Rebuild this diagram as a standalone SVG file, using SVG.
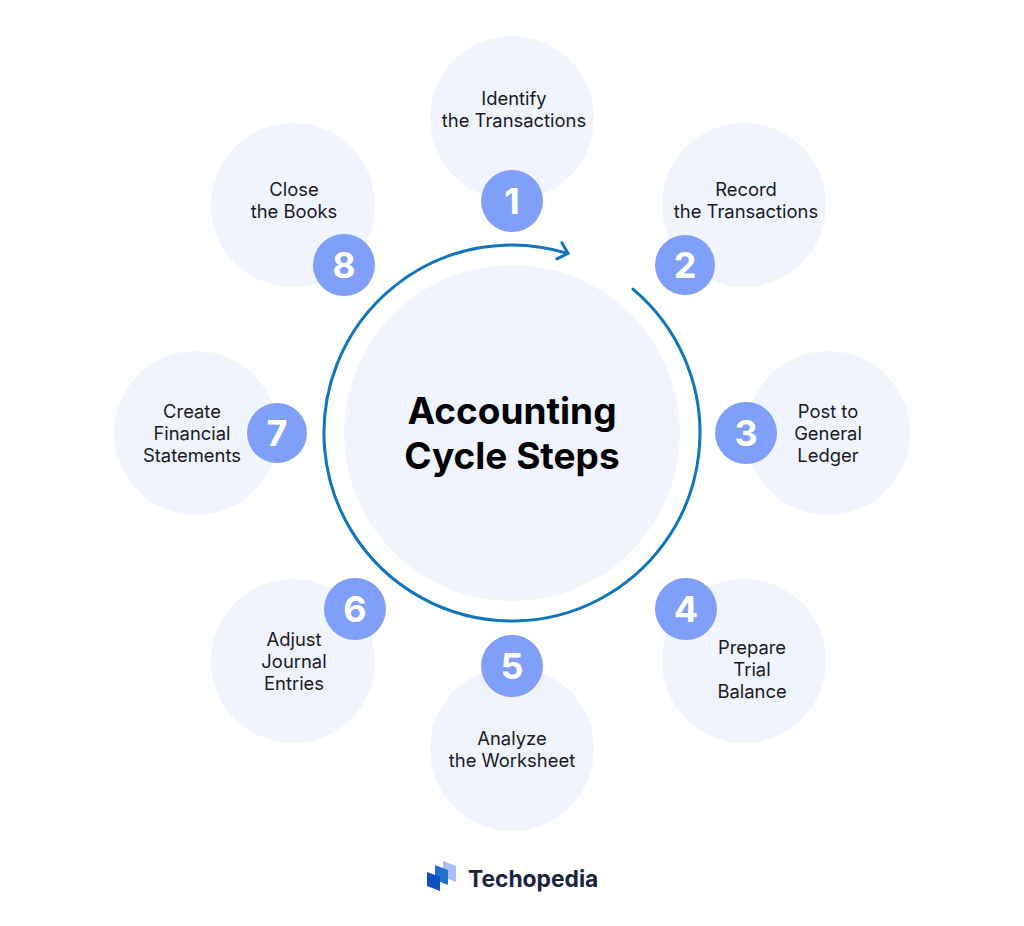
<svg xmlns="http://www.w3.org/2000/svg" width="1024" height="926" viewBox="0 0 1024 926">
<defs>
<marker id="arrow" markerUnits="userSpaceOnUse" markerWidth="20" markerHeight="22" refX="15" refY="10" orient="auto"><path d="M6 1.500L15 10L6 18.500" fill="none" stroke="#0f75bc" stroke-width="3" stroke-linecap="round" stroke-linejoin="round"/></marker>
</defs>
<style>
.bubble{fill:#eff4fe}
.badge{fill:#7f9ff8}
.num{font:700 36px Inter,"Liberation Sans",sans-serif;fill:#fff;text-anchor:middle}
.t{font:400 18.4px Inter,"Liberation Sans",sans-serif;fill:#1a1a1f;text-anchor:middle}
.title{font:700 37px Inter,"Liberation Sans",sans-serif;fill:#000;text-anchor:middle}
.ring{fill:none;stroke:#0f75bc;stroke-width:3;stroke-linecap:round}
</style>
<rect width="1024" height="926" fill="#fff"/>
<g id="center"><circle class="bubble" cx="512" cy="433" r="168"/><text class="title" x="512" y="424">Accounting</text><text class="title" x="512" y="469">Cycle Steps</text></g>
<g id="connectors"><path class="ring" marker-end="url(#arrow)" d="M633 289.100A188 188 0 1 1 568 253.500"/></g>
<g id="n1"><circle class="bubble" cx="512" cy="118" r="82"/><circle class="badge" cx="512" cy="201" r="31"/><text class="num" x="512" y="214">1</text><text class="t" x="514" y="105">Identify</text><text class="t" x="514" y="127">the Transactions</text></g>
<g id="n2"><circle class="bubble" cx="744" cy="205" r="82"/><circle class="badge" cx="685" cy="265" r="30"/><text class="num" x="685" y="278">2</text><text class="t" x="746" y="196">Record</text><text class="t" x="746" y="218">the Transactions</text></g>
<g id="n3"><circle class="bubble" cx="828" cy="433" r="82"/><circle class="badge" cx="746" cy="433" r="31"/><text class="num" x="746" y="446">3</text><text class="t" x="828" y="418">Post to</text><text class="t" x="828" y="440">General</text><text class="t" x="828" y="462">Ledger</text></g>
<g id="n4"><circle class="bubble" cx="744" cy="661" r="82"/><circle class="badge" cx="686" cy="609" r="31"/><text class="num" x="686" y="622">4</text><text class="t" x="752" y="654">Prepare</text><text class="t" x="752" y="676">Trial</text><text class="t" x="752" y="698">Balance</text></g>
<g id="n5"><circle class="bubble" cx="512" cy="749" r="82"/><circle class="badge" cx="512" cy="666" r="31"/><text class="num" x="512" y="679">5</text><text class="t" x="512" y="745">Analyze</text><text class="t" x="512" y="767">the Worksheet</text></g>
<g id="n6"><circle class="bubble" cx="293" cy="661" r="82"/><circle class="badge" cx="355" cy="609" r="31"/><text class="num" x="355" y="622">6</text><text class="t" x="294" y="646">Adjust</text><text class="t" x="294" y="668">Journal</text><text class="t" x="294" y="690">Entries</text></g>
<g id="n7"><circle class="bubble" cx="196" cy="433" r="82"/><circle class="badge" cx="277" cy="433" r="30"/><text class="num" x="277" y="446">7</text><text class="t" x="192" y="418">Create</text><text class="t" x="192" y="440">Financial</text><text class="t" x="192" y="462">Statements</text></g>
<g id="n8"><circle class="bubble" cx="293" cy="205" r="82"/><circle class="badge" cx="344" cy="265" r="31"/><text class="num" x="344" y="278">8</text><text class="t" x="294" y="196">Close</text><text class="t" x="294" y="218">the Books</text></g>
<g id="logo"><path fill="#a9bdf6" d="M443 861L456 866V882L443 877Z"/><path fill="#1f72c8" d="M435 865L448 870V885L435 880Z"/><path fill="#0f4fc4" d="M427 872L440 877V891L427 886Z"/><text x="468" y="887" font-family="Inter,'Liberation Sans',sans-serif" font-size="22.800" font-weight="700" fill="#1a2440">Techopedia</text></g>
</svg>
